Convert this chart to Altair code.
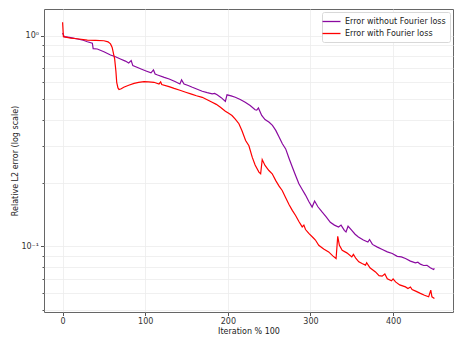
import altair as alt
import pandas as pd

series_names = ["Error without Fourier loss", "Error with Fourier loss"]

iter_no_fourier = [0, 2, 10, 18, 25, 30, 36, 37, 42, 50, 58, 64, 70, 76, 80, 83, 85, 90, 95, 101,
                   107, 110, 112, 115, 123, 129, 136, 142, 144, 147, 152, 157, 163, 169, 175, 181,
                   184, 187, 192, 197, 199, 204, 209, 215, 221, 227, 233, 235, 237, 241, 245, 250,
                   254, 258, 262, 266, 270, 274, 278, 282, 286, 290, 294, 298, 302, 305, 309, 314,
                   319, 324, 329, 334, 337, 341, 343, 345.5, 350, 354, 358, 364, 369.5, 371.5, 375,
                   381, 387, 393, 399, 405, 410, 415, 421, 427, 430, 433, 437, 441, 445, 449, 450]
err_no_fourier = [1.03, 0.99, 0.98, 0.965, 0.952, 0.937, 0.922, 0.868, 0.865, 0.840, 0.810, 0.795,
                  0.776, 0.758, 0.743, 0.762, 0.721, 0.708, 0.695, 0.680, 0.666, 0.688, 0.658, 0.651,
                  0.634, 0.623, 0.606, 0.590, 0.617, 0.590, 0.580, 0.569, 0.557, 0.545, 0.537, 0.530,
                  0.532, 0.524, 0.508, 0.488, 0.524, 0.518, 0.510, 0.498, 0.483, 0.466, 0.445, 0.443,
                  0.454, 0.418, 0.400, 0.388, 0.375, 0.355, 0.330, 0.307, 0.290, 0.262, 0.238, 0.217,
                  0.198, 0.186, 0.175, 0.163, 0.1535, 0.164, 0.154, 0.1455, 0.138, 0.130, 0.126,
                  0.1235, 0.126, 0.119, 0.117, 0.1245, 0.119, 0.114, 0.1107, 0.107, 0.1047, 0.1076,
                  0.102, 0.099, 0.0965, 0.094, 0.0923, 0.0895, 0.089, 0.0874, 0.085, 0.0833, 0.0840,
                  0.0822, 0.081, 0.0812, 0.079, 0.0775, 0.0785]

iter_fourier = [0, 1, 10, 17.5, 30, 40, 50, 55, 58, 60, 62, 63, 64.5, 65.5, 67, 68.3, 71, 74, 80,
                86.5, 92, 98.5, 104, 110.6, 116.7, 118.7, 120, 128.8, 135, 142, 149, 156, 162, 169,
                175, 181, 186, 191, 197, 201, 205, 209, 213.4, 217, 221.5, 225.5, 229.5, 233, 237.6,
                239.7, 241.6, 245, 249.7, 253.7, 258, 262, 265.8, 270, 274, 278, 282, 286, 290, 292,
                294, 298, 303, 306, 310, 316, 322, 327, 331, 333, 335, 338.4, 344, 350, 352, 355,
                358.5, 363, 366.6, 368, 372, 378.7, 383, 386.7, 390, 393, 398, 400, 403, 408, 415,
                418, 421, 423, 428, 433, 438, 443, 445.6, 447, 450]
err_fourier = [1.16, 0.99, 0.975, 0.968, 0.954, 0.950, 0.947, 0.935, 0.915, 0.880, 0.810, 0.776,
               0.680, 0.601, 0.565, 0.555, 0.560, 0.569, 0.582, 0.594, 0.600, 0.605, 0.604, 0.601,
               0.590, 0.603, 0.587, 0.573, 0.562, 0.551, 0.539, 0.528, 0.519, 0.510, 0.497, 0.483,
               0.472, 0.457, 0.438, 0.428, 0.418, 0.402, 0.382, 0.355, 0.318, 0.300, 0.265, 0.243,
               0.225, 0.221, 0.258, 0.242, 0.229, 0.221, 0.205, 0.193, 0.184, 0.170, 0.158, 0.148,
               0.140, 0.131, 0.1235, 0.126, 0.120, 0.115, 0.110, 0.107, 0.101, 0.097, 0.094, 0.090,
               0.0874, 0.1115, 0.101, 0.0957, 0.093, 0.089, 0.0915, 0.0875, 0.0843, 0.0825, 0.0813,
               0.0835, 0.0790, 0.0755, 0.0725, 0.0721, 0.0738, 0.0700, 0.0685, 0.0700, 0.0677,
               0.0655, 0.0641, 0.0630, 0.0640, 0.0623, 0.0610, 0.0597, 0.0585, 0.0575, 0.0618,
               0.0575, 0.0565]

x_ticks = [0, 100, 200, 300, 400]
y_ticks = [0.05, 0.06, 0.07, 0.08, 0.09, 0.1, 0.2, 0.3, 0.4, 0.5, 0.6, 0.7, 0.8, 0.9, 1.0]

df = pd.concat([
    pd.DataFrame({"iteration": iter_no_fourier, "error": err_no_fourier, "series": series_names[0]}),
    pd.DataFrame({"iteration": iter_fourier, "error": err_fourier, "series": series_names[1]}),
], ignore_index=True)

chart = alt.Chart(df).mark_line(strokeWidth=1.2, clip=True).encode(
    x=alt.X("iteration:Q",
            scale=alt.Scale(domain=[-22.5, 472.5], nice=False, zero=False),
            axis=alt.Axis(values=x_ticks, title="Iteration % 100", format="d",
                          tickSize=3.5, labelPadding=2, titlePadding=2)),
    y=alt.Y("error:Q",
            scale=alt.Scale(type="log", domain=[0.0487, 1.34], nice=False),
            axis=alt.Axis(values=y_ticks, title="Relative L2 error (log scale)",
                          labelExpr="datum.value == 1 ? '10⁰' : (abs(datum.value - 0.1) < 1e-9 ? '10⁻¹' : '')",
                          tickSize={"condition": {"test": "datum.value == 1 || abs(datum.value - 0.1) < 1e-9", "value": 3.5}, "value": 2},
                          labelPadding=2, titlePadding=1)),
    color=alt.Color("series:N",
                    scale=alt.Scale(domain=series_names, range=["#8a0aa0", "#ff0000"]),
                    legend=alt.Legend(title=None, orient="top-right", offset=3,
                                      symbolType="M-2,0H2", symbolSize=81, symbolStrokeWidth=1.3,
                                      labelFontSize=8, labelFont="DejaVu Sans", labelColor="#222",
                                      strokeColor="#d8d8d8", fillColor="white", padding=4,
                                      cornerRadius=2, rowPadding=2, labelOffset=8)),
).properties(
    width=409, height=303,
    autosize=alt.AutoSizeParams(type="none"),
    padding={"left": 36, "top": 1, "right": 1, "bottom": 30},
).configure_view(
    stroke="#666", strokeWidth=1
).configure_axis(
    labelFont="DejaVu Sans", titleFont="DejaVu Sans", labelFontSize=8, titleFontSize=8,
    titleFontWeight="normal", labelColor="#333", titleColor="#222",
    tickColor="#555", domain=False, gridColor="#ececec", gridWidth=0.8
)

chart.save("out.html", embed_options={"renderer": "svg", "actions": False})
